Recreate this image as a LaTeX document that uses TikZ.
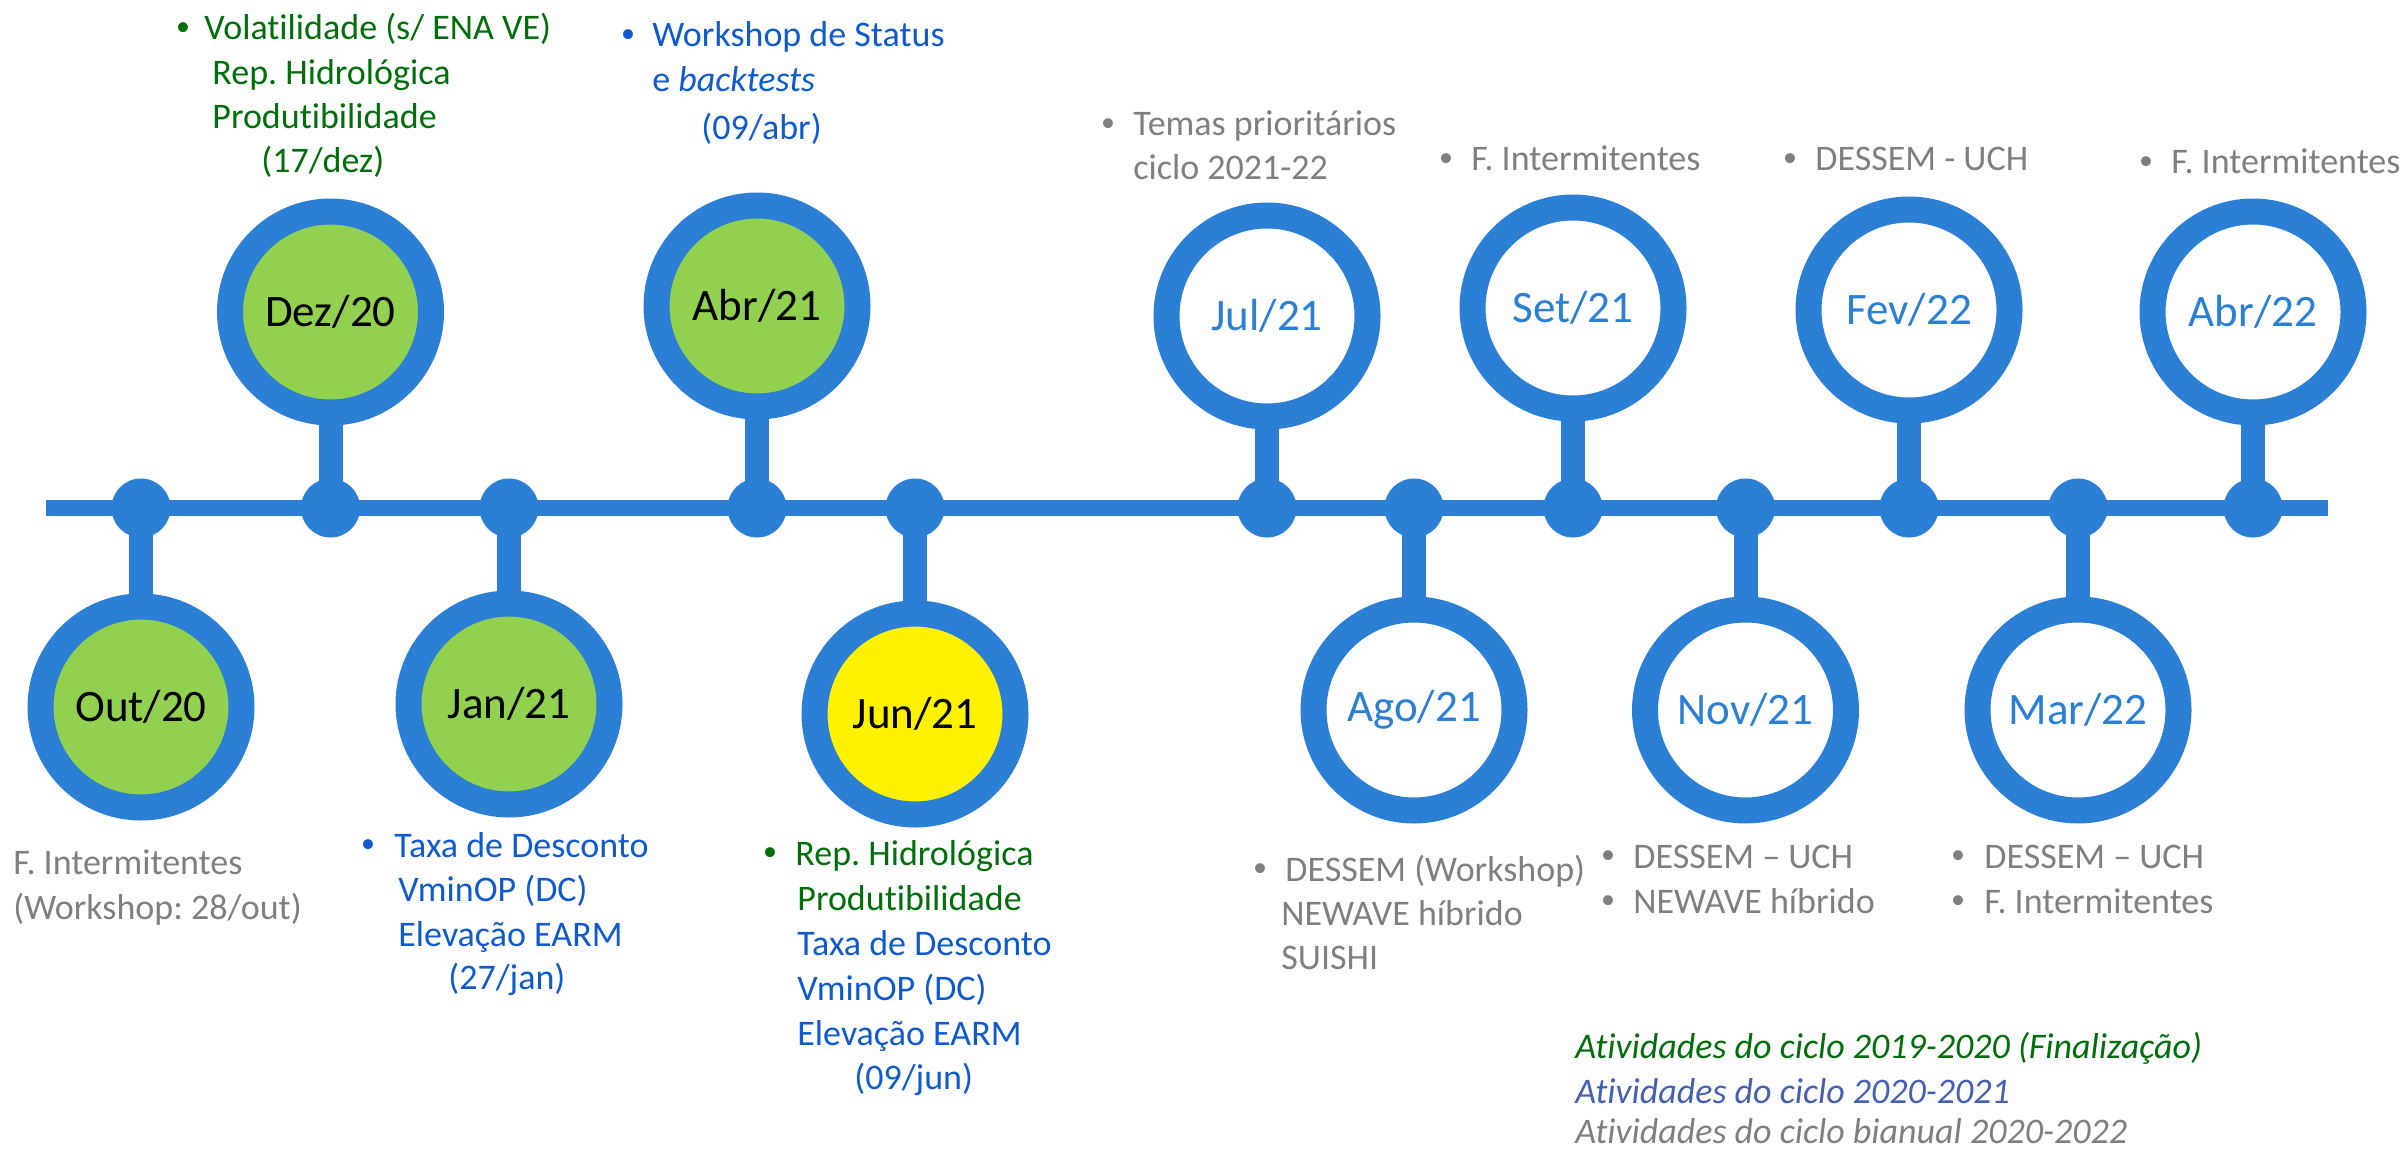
\documentclass[tikz,border=0pt]{standalone}
\usepackage{fontspec}
\setmainfont{Carlito}[Ligatures=NoCommon]
\usetikzlibrary{backgrounds}
\definecolor{ringblue}{HTML}{2B7FD4}
\definecolor{lgreen}{HTML}{92D050}
\definecolor{tgreen}{HTML}{006E0A}
\definecolor{tblue}{HTML}{0F5ACD}
\definecolor{tgrey}{HTML}{7F7F7F}
\definecolor{lblue}{HTML}{4560B0}
\tikzset{
  axisline/.style={draw=ringblue, line width=8pt},
  stemline/.style={draw=ringblue, line width=12pt},
  dotnode/.style={circle, fill=ringblue, inner sep=0pt, minimum size=29.5pt},
  ring/.style={circle, draw=ringblue, line width=13pt, inner sep=0pt, minimum size=100.5pt,
     font=\fontsize{22.5pt}{27pt}\selectfont},
  ringg/.style={ring, fill=lgreen, text=black},
  ringy/.style={ring, fill=yellow, text=black},
  ringw/.style={ring, fill=white, text=ringblue},
  txt/.style={anchor=base west, inner sep=0pt, font=\fontsize{18pt}{22pt}\selectfont},
  bul/.style={anchor=center, inner sep=0pt, font=\fontsize{14pt}{14pt}\selectfont},
}
\newcommand\tln[5]{\node[txt,text=#4] (#1) at (#2,#3) {#5};}
\newcommand\bln[4]{\node[bul,text=#4] (#1) at (#2,#3-11) {•};}
\begin{document}
\frenchspacing
\begin{tikzpicture}[x=0.5pt,y=-0.5pt]
\useasboundingbox (0,0) rectangle (2407,1150);
% dots on axis
\node[dotnode] (d1) at (141,508) {};
\node[dotnode] (d2) at (330.5,508) {};
\node[dotnode] (d3) at (509,508) {};
\node[dotnode] (d4) at (757,508) {};
\node[dotnode] (d5) at (915,508) {};
\node[dotnode] (d6) at (1267,508) {};
\node[dotnode] (d7) at (1414,508) {};
\node[dotnode] (d8) at (1573,508) {};
\node[dotnode] (d9) at (1745.5,508) {};
\node[dotnode] (d10) at (1909,508) {};
\node[dotnode] (d11) at (2078,508) {};
\node[dotnode] (d12) at (2253,508) {};
% circles
\node[ringg] (c1) at (141,707) {Out/20};
\node[ringg] (c2) at (330.5,312) {Dez/20};
\node[ringg] (c3) at (509,704) {Jan/21};
\node[ringg] (c4) at (757,306) {Abr/21};
\node[ringy] (c5) at (915,714) {Jun/21};
\node[ringw] (c6) at (1267,316) {Jul/21};
\node[ringw] (c7) at (1414,710) {Ago/21};
\node[ringw] (c8) at (1573,308) {Set/21};
\node[ringw] (c9) at (1745.5,710) {Nov/21};
\node[ringw] (c10) at (1909,310) {Fev/22};
\node[ringw] (c11) at (2078,710) {Mar/22};
\node[ringw] (c12) at (2253,312) {Abr/22};
\coordinate (axL) at (46,508);
\coordinate (axR) at (2328,508);
\begin{scope}[on background layer]
\draw[axisline] (axL) -- (axR);
\foreach \i in {1,...,12}{\draw[stemline] (d\i.center) -- (c\i.center);}
\end{scope}
% Dez/20
\bln{b2}{183}{40}{tgreen}
\tln{t2a}{204}{40}{tgreen}{Volatilidade (s/ ENA VE)}
\tln{t2b}{212}{85}{tgreen}{Rep. Hidrológica}
\tln{t2c}{212}{129}{tgreen}{Produtibilidade}
\tln{t2d}{261}{173}{tgreen}{(17/dez)}
% Abr/21
\bln{b4}{628}{47}{tblue}
\tln{t4a}{652}{47}{tblue}{Workshop de Status}
\tln{t4b}{652}{92}{tblue}{e \textit{backtests}}
\tln{t4c}{701}{140}{tblue}{(09/abr)}
% Jul/21
\bln{b6}{1108}{136}{tgrey}
\tln{t6a}{1133}{136}{tgrey}{Temas prioritários}
\tln{t6b}{1133}{180}{tgrey}{ciclo 2021-22}
% Set/21
\bln{b8}{1446}{171}{tgrey}
\tln{t8a}{1471}{171}{tgrey}{F. Intermitentes}
% Fev/22
\bln{b10}{1790}{171}{tgrey}
\tln{t10a}{1815}{171}{tgrey}{DESSEM - UCH}
% Abr/22
\bln{b12}{2146}{174}{tgrey}
\tln{t12a}{2171}{174}{tgrey}{F. Intermitentes}
% Out/20
\tln{t1a}{13}{874}{tgrey}{F. Intermitentes}
\tln{t1b}{13}{919}{tgrey}{(Workshop: 28/out)}
% Jan/21
\bln{b3}{368}{857}{tblue}
\tln{t3a}{394}{857}{tblue}{Taxa de Desconto}
\tln{t3b}{398}{901}{tblue}{VminOP (DC)}
\tln{t3c}{398}{946}{tblue}{Elevação EARM}
\tln{t3d}{448}{989}{tblue}{(27/jan)}
% Jun/21
\bln{b5}{770}{865}{tgreen}
\tln{t5a}{795}{865}{tgreen}{Rep. Hidrológica}
\tln{t5b}{797}{910}{tgreen}{Produtibilidade}
\tln{t5c}{797}{955}{tblue}{Taxa de Desconto}
\tln{t5d}{797}{1000}{tblue}{VminOP (DC)}
\tln{t5e}{797}{1045}{tblue}{Elevação EARM}
\tln{t5f}{854}{1089}{tblue}{(09/jun)}
% Ago/21
\bln{b7}{1260}{881}{tgrey}
\tln{t7a}{1285}{881}{tgrey}{DESSEM (Workshop)}
\tln{t7b}{1281}{925}{tgrey}{NEWAVE híbrido}
\tln{t7c}{1281}{969}{tgrey}{SUISHI}
% Nov/21
\bln{b9a}{1608}{868}{tgrey}
\tln{t9a}{1633}{868}{tgrey}{DESSEM – UCH}
\bln{b9b}{1608}{913}{tgrey}
\tln{t9b}{1633}{913}{tgrey}{NEWAVE híbrido}
% Mar/22
\bln{b11a}{1958}{868}{tgrey}
\tln{t11a}{1984}{868}{tgrey}{DESSEM – UCH}
\bln{b11b}{1958}{913}{tgrey}
\tln{t11b}{1984}{913}{tgrey}{F. Intermitentes}
% legend
\tln{lg1}{1575}{1058}{tgreen}{\textit{Atividades do ciclo 2019-2020 (Finalização)}}
\tln{lg2}{1575}{1103}{lblue}{\textit{Atividades do ciclo 2020-2021}}
\tln{lg3}{1575}{1143}{tgrey}{\textit{Atividades do ciclo bianual 2020-2022}}
\end{tikzpicture}
\end{document}
